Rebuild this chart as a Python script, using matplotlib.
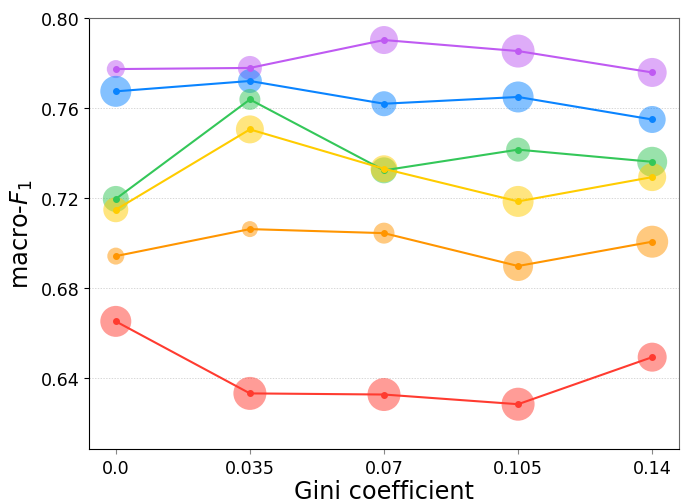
import numpy as np
from matplotlib import pyplot as plt

# Gini coefficients (x axis categories)
gini = ['0.0', '0.035', '0.07', '0.105', '0.14']

# macro-F1 means per method
purple_f1 = [0.7773, 0.7778, 0.7902, 0.7853, 0.7758]
blue_f1 = [0.7674, 0.7720, 0.7619, 0.7649, 0.7549]
green_f1 = [0.7196, 0.7638, 0.7323, 0.7415, 0.7361]
yellow_f1 = [0.7148, 0.7505, 0.7330, 0.7185, 0.7293]
orange_f1 = [0.6942, 0.7062, 0.7044, 0.6898, 0.7006]
red_f1 = [0.6652, 0.6332, 0.6327, 0.6284, 0.6493]

# spread per point (shown as circle size)
purple_sp = [18, 24, 28, 33, 29]
blue_sp = [31, 24, 25, 31, 27]
green_sp = [26, 21, 26, 24, 30]
yellow_sp = [25, 28, 27, 31, 28]
orange_sp = [17, 16, 21, 30, 32]
red_sp = [31, 33, 33, 33, 29]

series = [
    (purple_f1, purple_sp, '#BF5AF2'),
    (blue_f1, blue_sp, '#0A84FF'),
    (green_f1, green_sp, '#34C759'),
    (yellow_f1, yellow_sp, '#FFCC00'),
    (orange_f1, orange_sp, '#FF9500'),
    (red_f1, red_sp, '#FF3B30'),
]

fig = plt.figure(figsize=(6.86, 5.02), dpi=100)
ax = fig.add_axes([0.1297, 0.1036, 0.8601, 0.8586])

x = np.arange(len(gini))
for f1, sp, col in series:
    s = (np.array(sp) * 0.72) ** 2
    ax.scatter(x, f1, s=s, color=col, alpha=0.5, linewidths=0, zorder=2)
    ax.plot(x, f1, color=col, lw=1.5, marker='o', markersize=4, zorder=3)

ax.set_xlim(-0.2, 4.2)
ax.set_ylim(0.6085, 0.80)
ax.set_xticks(x)
ax.set_xticklabels(gini)
ax.set_yticks([0.64, 0.68, 0.72, 0.76, 0.80])
ax.set_yticklabels(['0.64', '0.68', '0.72', '0.76', '0.80'])
ax.tick_params(labelsize=12.6)
ax.tick_params(axis='x', color='#888888')
ax.yaxis.grid(True, linestyle=(0, (2, 2)), color='#c8c8c8', lw=0.5)
ax.set_axisbelow(True)
for side in ['top', 'right']:
    ax.spines[side].set_color('#666666')
ax.set_xlabel('Gini coefficient', fontsize=17.3, labelpad=2)
ax.set_ylabel('macro-$F_1$', fontsize=17.3)

plt.savefig('out.png', dpi=100)
plt.close()
